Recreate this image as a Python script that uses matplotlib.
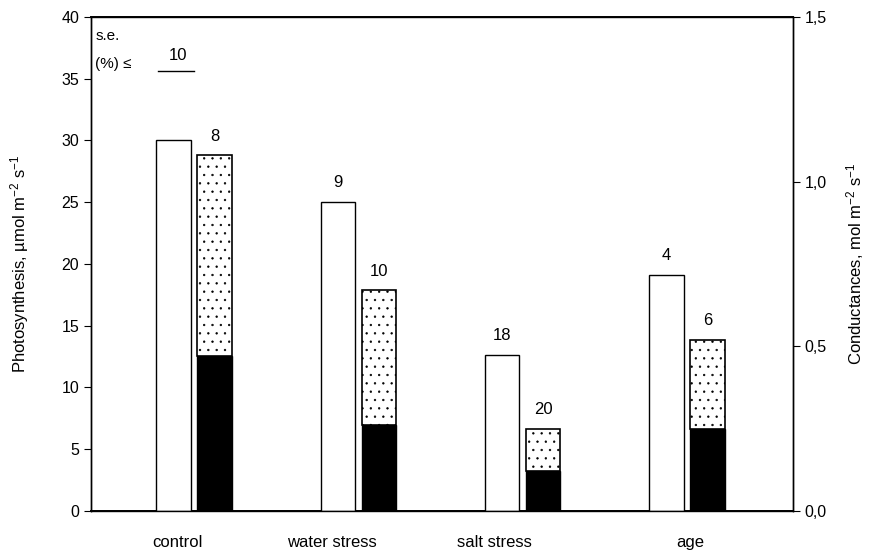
import matplotlib
matplotlib.use("Agg")
import matplotlib.pyplot as plt
import numpy as np

plt.rcParams['font.family'] = ['Liberation Sans', 'DejaVu Sans']
plt.rcParams['mathtext.default'] = 'regular'
plt.rcParams['hatch.linewidth'] = 0.45

categories = ["control", "water stress", "salt stress", "age"]
photosynthesis = [30.0, 25.0, 12.6, 19.1]
photo_se = [None, 9, 18, 4]
cond_total = [1.08, 0.67, 0.25, 0.52]
cond_lower = [0.47, 0.26, 0.12, 0.25]
cond_se = [8, 10, 20, 6]
label_offsets = [-0.1, -0.16, -0.17, 0.02]

fig = plt.figure(figsize=(8.7, 5.52), dpi=100)
ax = fig.add_axes([0.1046, 0.0743, 0.8069, 0.8949])
ax2 = ax.twinx()

x = np.arange(len(categories))
w = 0.21
off = 0.125

ax.bar(x - off, photosynthesis, w, color='white', edgecolor='black', linewidth=1.0, zorder=3)
for xi, v, s in zip(x, photosynthesis, photo_se):
    if s is not None:
        ax.text(xi - off, v + 1.0, str(s), ha='center', va='bottom', fontsize=12)

ax2.bar(x + off, cond_lower, w, color='black', edgecolor='black', linewidth=1.0, zorder=3)
upper = [t - l for t, l in zip(cond_total, cond_lower)]
ax2.bar(x + off, upper, w, bottom=cond_lower, color='white', edgecolor='black',
        hatch='..', linewidth=1.2, zorder=3)
for xi, v, s in zip(x, cond_total, cond_se):
    ax2.text(xi + off, v + 0.035, str(s), ha='center', va='bottom', fontsize=12)

ax.set_xlim(-0.627, 3.646)
ax.set_ylim(0, 40)
ax2.set_ylim(0, 1.5)
ax.set_yticks(np.arange(0, 41, 5))
ax2.set_yticks([0.0, 0.5, 1.0, 1.5])
ax2.set_yticklabels(["0,0", "0,5", "1,0", "1,5"])
ax.set_xticks(x + np.array(label_offsets))
ax.set_xticklabels(categories, fontsize=12)
ax.tick_params(axis='x', length=0, pad=17)
ax.tick_params(axis='y', direction='out', length=5, labelsize=11.5)
ax2.tick_params(axis='y', direction='out', length=5, labelsize=11.5)

for a in (ax, ax2):
    for sp in a.spines.values():
        sp.set_linewidth(1.0)
ax.spines['bottom'].set_linewidth(1.4)
ax.spines['top'].set_linewidth(1.4)

ax.set_ylabel("Photosynthesis, µmol m$^{-2}$ s$^{-1}$", fontsize=12, labelpad=22)
ax2.set_ylabel("Conductances, mol m$^{-2}$ s$^{-1}$", fontsize=12, labelpad=12)

# s.e. legend
ax.text(-0.6, 39.0, "s.e.", ha='left', va='top', fontsize=11)
ax.text(-0.6, 35.6, "(%) ≤", ha='left', va='bottom', fontsize=11)
ax.text(-0.1, 36.3, "10", ha='center', va='bottom', fontsize=12)
ax.plot([-0.22, 0.0], [35.6, 35.6], color='black', linewidth=1.0)

fig.savefig("out.png", dpi=100)
